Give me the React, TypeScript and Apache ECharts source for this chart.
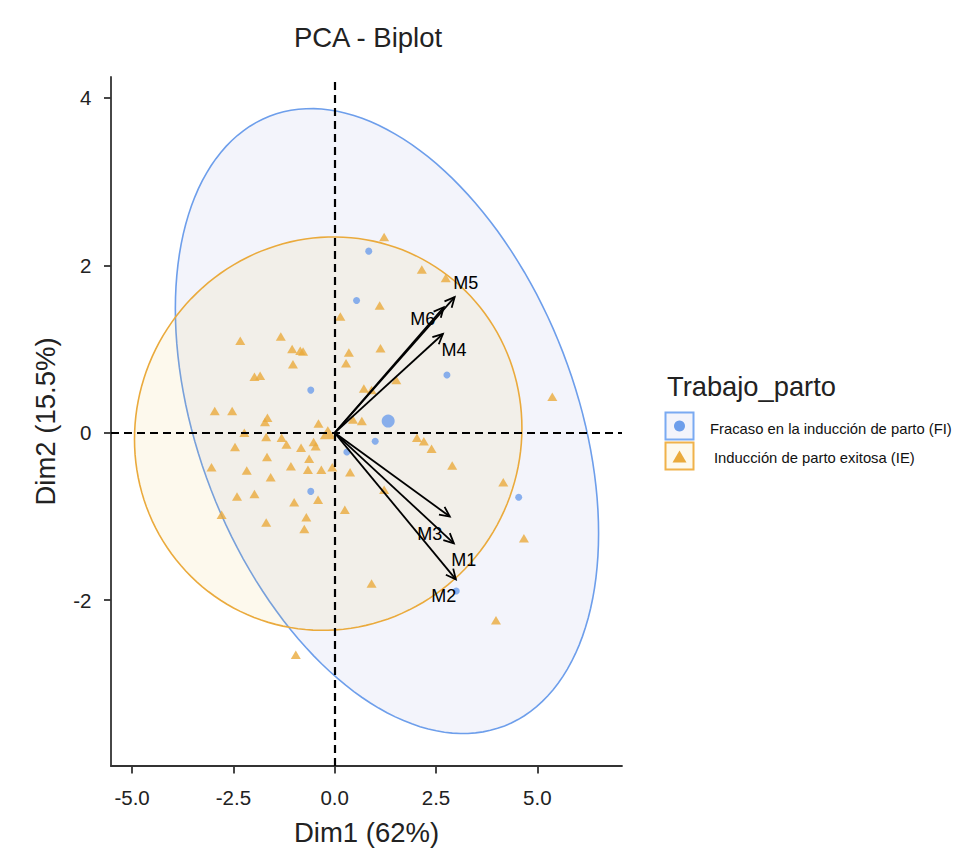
import React, { useEffect, useRef } from "react";
import * as echarts from "echarts";

// ---- data ----
const fiPoints: number[][] = [
  [0.84, 2.17], [0.54, 1.58], [-0.59, 0.51], [2.77, 0.69], [1.0, -0.1],
  [0.3, -0.23], [-0.59, -0.7], [4.54, -0.77], [3.0, -1.89],
];
const iePoints: number[][] = [
  [1.22, 2.34], [2.15, 1.95], [2.74, 1.85], [1.11, 1.52], [0.14, 1.39],
  [-2.33, 1.1], [-1.33, 1.15], [-1.05, 1.0], [-0.85, 0.98], [-0.78, 0.97],
  [-1.03, 0.82], [0.35, 0.96], [0.28, 0.83], [1.13, 1.01], [-1.98, 0.67],
  [-1.84, 0.68], [1.52, 0.63], [0.72, 0.53], [0.91, 0.51], [5.37, 0.43],
  [-2.96, 0.26], [-2.53, 0.26], [-1.66, 0.18], [-1.72, 0.13], [-0.4, 0.11],
  [0.45, 0.16], [0.67, 0.14], [2.03, -0.06], [2.2, -0.1], [2.39, -0.19],
  [-2.23, 0.0], [-1.69, -0.05], [-1.31, -0.06], [-1.19, -0.14], [-0.83, -0.18],
  [-0.52, -0.11], [-0.47, -0.16], [-2.46, -0.17], [-1.67, -0.29], [-0.63, -0.31],
  [-3.04, -0.41], [-2.17, -0.45], [-1.08, -0.4], [-0.66, -0.44], [-0.33, -0.44],
  [-0.06, -0.41], [0.38, -0.47], [2.9, -0.39], [-1.58, -0.53], [-2.41, -0.76],
  [-1.98, -0.73], [-1.0, -0.83], [-0.41, -0.8], [0.25, -0.92], [1.22, -0.68],
  [4.16, -0.59], [-2.79, -0.98], [-0.7, -1.01], [-1.69, -1.07], [-0.75, -1.15],
  [4.67, -1.26], [0.91, -1.8], [3.98, -2.24], [-0.96, -2.65],
];
const fiMean: number[] = [1.32, 0.14];
const ieMean: number[] = [-0.17, 0.0];

const variableNames: string[] = ["M1", "M2", "M3", "M4", "M5", "M6"];
const variableX: number[] = [2.94, 2.99, 2.84, 2.67, 2.96, 2.69];
const variableY: number[] = [-1.32, -1.75, -1.0, 1.18, 1.62, 1.5];

// concentration ellipses: centre x, centre y, var x, cov xy, var y (radius^2 units)
const fiEllipse: number[] = [1.29, 0.14, 27.27, -7.0, 13.93];
const ieEllipse: number[] = [-0.16, -0.01, 22.85, 0.32, 5.52];

const xTicks: number[] = [-5, -2.5, 0, 2.5, 5];
const yTicks: number[] = [-2, 0, 2, 4];

const groupNames: string[] = [
  "Fracaso en la inducción de parto (FI)",
  "Inducción de parto exitosa (IE)",
];
const legendTitle = "Trabajo_parto";
const chartTitle = "PCA - Biplot";
const xTitle = "Dim1 (62%)";
const yTitle = "Dim2 (15.5%)";

// ---- styles ----
const FONT = "'Liberation Sans', Arial, Helvetica, sans-serif";
const BLUE = "#6D9EEB";
const ORANGE = "#EAAA3C";
const BLUE_FILL = "rgba(105,117,205,0.08)";
const ORANGE_FILL = "rgba(234,190,60,0.09)";
const labelOffset: Record<string, number[]> = {
  M1: [10, 17], M2: [-12, 17], M3: [-20, 17], M4: [11, 16], M5: [11, -14], M6: [-21, 12],
};

function ellipsePolygon(e: number[], api: any): number[][] {
  const [cx, cy, sxx, sxy, syy] = e;
  const l11 = Math.sqrt(sxx);
  const l21 = sxy / l11;
  const l22 = Math.sqrt(syy - l21 * l21);
  const pts: number[][] = [];
  const n = 160;
  for (let i = 0; i < n; i++) {
    const t = (2 * Math.PI * i) / n;
    const u = Math.cos(t);
    const v = Math.sin(t);
    pts.push(api.coord([cx + l11 * u, cy + l21 * u + l22 * v]));
  }
  return pts;
}

export default function App() {
  const ref = useRef<HTMLDivElement>(null);
  useEffect(() => {
    if (!ref.current) return;
    const chart = echarts.init(ref.current, undefined, { renderer: "svg", width: 955, height: 849 });

    const ellipseSeries = (name: string, e: number[], stroke: string, fill: string, extra: any = {}) => ({
      type: "custom",
      name,
      silent: true,
      z: 1,
      data: [[e[0], e[1]]],
      encode: { x: 0, y: 1 },
      renderItem: (_p: any, api: any) => ({
        type: "polygon",
        shape: { points: ellipsePolygon(e, api) },
        style: { fill, stroke, lineWidth: 1.6 },
      }),
      ...extra,
    });

    const option: any = {
      animation: false,
      backgroundColor: "#ffffff",
      title: {
        text: chartTitle,
        left: 368,
        top: 23.5,
        padding: 0,
        textAlign: "center",
        textStyle: { fontFamily: FONT, fontSize: 27.5, fontWeight: "normal", color: "#222" },
      },
      grid: { left: 111, right: 333, top: 77, bottom: 83, containLabel: false, outerBoundsMode: "none" },
      xAxis: {
        type: "value",
        min: -5.52,
        max: 7.09,
        name: xTitle,
        nameLocation: "middle",
        nameGap: 52,
        nameTextStyle: { fontFamily: FONT, fontSize: 27.5, color: "#222" },
        axisLine: { show: true, onZero: false, lineStyle: { color: "#333", width: 1.8 } },
        axisTick: { show: true, length: 7.5, customValues: xTicks, lineStyle: { color: "#333", width: 1.8 } },
        axisLabel: {
          customValues: xTicks,
          margin: 21,
          fontFamily: FONT,
          fontSize: 20.5,
          color: "#222",
          formatter: (v: number) => v.toFixed(1),
        },
        splitLine: { show: false },
      },
      yAxis: {
        type: "value",
        min: -3.98,
        max: 4.25,
        name: yTitle,
        nameLocation: "middle",
        nameGap: 52,
        nameTextStyle: { fontFamily: FONT, fontSize: 27.5, color: "#222" },
        axisLine: { show: true, onZero: false, lineStyle: { color: "#333", width: 1.8 } },
        axisTick: { show: true, length: 7, customValues: yTicks, lineStyle: { color: "#333", width: 1.8 } },
        axisLabel: {
          customValues: yTicks,
          margin: 19.5,
          fontFamily: FONT,
          fontSize: 20.5,
          color: "#222",
          formatter: (v: number) => String(v),
        },
        splitLine: { show: false },
      },
      series: [
        ellipseSeries("FI ellipse", fiEllipse, BLUE, BLUE_FILL),
        ellipseSeries("IE ellipse", ieEllipse, ORANGE, ORANGE_FILL, {
          markLine: {
            silent: true,
            symbol: ["none", "none"],
            label: { show: false },
            lineStyle: { color: "#000", width: 2.2, type: [8, 5] },
            data: [{ xAxis: 0 }, { yAxis: 0 }],
          },
        }),
        {
          type: "scatter",
          name: groupNames[1],
          data: iePoints,
          symbol: "triangle",
          symbolSize: [10, 8.5],
          itemStyle: { color: ORANGE },
          z: 3,
        },
        {
          type: "scatter",
          name: groupNames[0],
          data: fiPoints,
          symbol: "circle",
          symbolSize: 7,
          itemStyle: { color: BLUE },
          z: 3,
        },
        {
          type: "scatter",
          name: "IE mean",
          data: [ieMean],
          symbol: "triangle",
          symbolSize: [16, 13],
          itemStyle: { color: ORANGE },
          z: 3,
        },
        {
          type: "scatter",
          name: "FI mean",
          data: [fiMean],
          symbol: "circle",
          symbolSize: 13,
          itemStyle: { color: BLUE },
          z: 3,
        },
        {
          type: "custom",
          name: "variables",
          silent: true,
          z: 5,
          data: variableNames.map((n, i) => [variableX[i], variableY[i], n]),
          encode: { x: 0, y: 1 },
          renderItem: (params: any, api: any) => {
            const x = api.value(0);
            const y = api.value(1);
            const name = variableNames[params.dataIndex];
            const o = api.coord([0, 0]);
            const e = api.coord([x, y]);
            const ang = Math.atan2(e[1] - o[1], e[0] - o[0]);
            const hl = 11;
            const ha = Math.PI / 7;
            const h1 = [e[0] - hl * Math.cos(ang - ha), e[1] - hl * Math.sin(ang - ha)];
            const h2 = [e[0] - hl * Math.cos(ang + ha), e[1] - hl * Math.sin(ang + ha)];
            const off = labelOffset[name] || [0, 0];
            return {
              type: "group",
              children: [
                { type: "line", shape: { x1: o[0], y1: o[1], x2: e[0], y2: e[1] }, style: { stroke: "#000", lineWidth: 1.8 } },
                { type: "polyline", shape: { points: [h1, e, h2] }, style: { stroke: "#000", lineWidth: 1.8, fill: null } },
                {
                  type: "text",
                  x: e[0] + off[0],
                  y: e[1] + off[1],
                  style: { text: name, fill: "#000", fontSize: 18, fontFamily: FONT, align: "center", verticalAlign: "middle" },
                },
              ],
            };
          },
        },
      ],
      graphic: [
        {
          type: "text",
          x: 667,
          y: 386,
          style: { text: legendTitle, fill: "#222", fontSize: 27.3, fontFamily: FONT, align: "left", verticalAlign: "middle" },
        },
        { type: "rect", shape: { x: 665.5, y: 412.5, width: 28, height: 27 }, style: { fill: BLUE_FILL, stroke: "#7AAAF2", lineWidth: 2 } },
        { type: "circle", shape: { cx: 679.5, cy: 426, r: 5.5 }, style: { fill: BLUE } },
        { type: "rect", shape: { x: 665.5, y: 442.5, width: 28, height: 27 }, style: { fill: ORANGE_FILL, stroke: "#F0B24A", lineWidth: 2 } },
        { type: "polygon", shape: { points: [[672.5, 462.5], [686.5, 462.5], [679.5, 450.5]] }, style: { fill: ORANGE } },
        {
          type: "text",
          x: 710,
          y: 429,
          style: { text: groupNames[0], fill: "#111", fontSize: 14.8, fontFamily: FONT, align: "left", verticalAlign: "middle" },
        },
        {
          type: "text",
          x: 714,
          y: 458,
          style: { text: groupNames[1], fill: "#111", fontSize: 14.8, fontFamily: FONT, align: "left", verticalAlign: "middle" },
        },
      ],
    };
    chart.setOption(option);
    return () => chart.dispose();
  }, []);
  return <div ref={ref} style={{ position: "absolute", left: 0, top: 0, width: 955, height: 849 }} />;
}
